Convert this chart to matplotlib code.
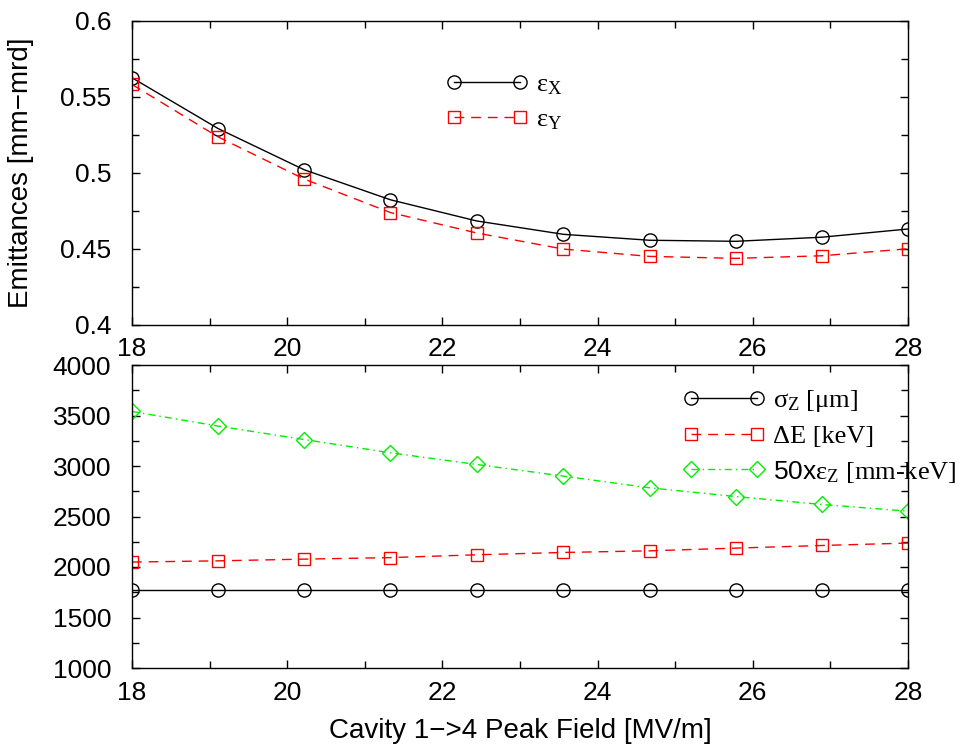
import numpy as np
import matplotlib
matplotlib.use("Agg")
import matplotlib.pyplot as plt
from matplotlib.ticker import MultipleLocator

plt.rcParams['font.family'] = ['Liberation Sans', 'DejaVu Sans']
plt.rcParams['mathtext.fontset'] = 'custom'
plt.rcParams['mathtext.rm'] = 'Liberation Serif'
plt.rcParams['mathtext.it'] = 'Liberation Serif:italic'
plt.rcParams['mathtext.sf'] = 'Liberation Sans'

# field values (10 points from 18 to 28 MV/m)
field = [18.0, 19.11, 20.22, 21.33, 22.44, 23.56, 24.67, 25.78, 26.89, 28.0]

# top panel: transverse emittances [mm-mrd]
emit_x = [0.5625, 0.5291, 0.5020, 0.4823, 0.4684, 0.4596, 0.4557, 0.4550, 0.4577, 0.4631]
emit_y = [0.5581, 0.5236, 0.4959, 0.4739, 0.4605, 0.4499, 0.4451, 0.4438, 0.4455, 0.4501]

# bottom panel
sigma_z = [1775, 1775, 1775, 1775, 1775, 1775, 1775, 1775, 1775, 1775]
delta_e = [2049, 2061, 2078, 2093, 2121, 2144, 2160, 2187, 2213, 2237]
emit_z50 = [3540, 3395, 3262, 3131, 3015, 2900, 2784, 2698, 2619, 2553]

green = '#00ee00'

fig = plt.figure(figsize=(9.71, 7.51), dpi=100)
W, H = 971.0, 751.0
ax1 = fig.add_axes([132 / W, 1 - 325 / H, 776 / W, 304.3 / H])
ax2 = fig.add_axes([132 / W, 1 - 668 / H, 776 / W, 303 / H])

ax1.plot(field, emit_x, color='black', lw=1, marker='o', ms=9.5, mfc='none',
         mec='black', mew=1, label='ε$_\\mathrm{X}$')
ax1.plot(field, emit_y, color='red', lw=1, dashes=(7, 5), marker='s', ms=8,
         mfc='none', mec='red', mew=1, label='ε$_\\mathrm{Y}$')

ax2.plot(field, sigma_z, color='black', lw=1, marker='o', ms=9.5, mfc='none',
         mec='black', mew=1, label='σ$_\\mathrm{Z}$ [μm]')
ax2.plot(field, delta_e, color='red', lw=1, dashes=(7, 5), marker='s', ms=8,
         mfc='none', mec='red', mew=1, label='ΔE [keV]')
ax2.plot(field, emit_z50, color=green, lw=1, dashes=(5, 3, 1, 3), marker='D',
         ms=8, mfc='none', mec=green, mew=1,
         label='$\\mathsf{50x}$ε$_\\mathrm{Z}$ [mm-keV]')

ax1.set_xlim(18, 28)
ax1.set_ylim(0.4, 0.6)
ax2.set_xlim(18, 28)
ax2.set_ylim(1000, 4000)

ax1.xaxis.set_major_locator(MultipleLocator(2))
ax1.xaxis.set_minor_locator(MultipleLocator(1))
ax1.yaxis.set_minor_locator(MultipleLocator(0.025))
ax1.set_yticks([0.4, 0.45, 0.5, 0.55, 0.6])
ax1.set_yticklabels(['0.4', '0.45', '0.5', '0.55', '0.6'])
ax2.xaxis.set_major_locator(MultipleLocator(2))
ax2.xaxis.set_minor_locator(MultipleLocator(1))
ax2.yaxis.set_major_locator(MultipleLocator(500))
ax2.yaxis.set_minor_locator(MultipleLocator(250))

for ax in (ax1, ax2):
    ax.tick_params(which='both', direction='in', top=True, right=True,
                   labelsize=19, width=1)
    ax.tick_params(which='major', length=6)
    ax.tick_params(which='minor', length=5)
    ax.tick_params(axis='y', pad=15)
    ax.tick_params(axis='x', pad=9)
    for s in ax.spines.values():
        s.set_linewidth(1)

fig.text(21 / W, 1 - 173 / H, 'Emittances [mm\u2212mrd]', rotation=90,
         ha='center', va='center', fontsize=20)
fig.text(520 / W, 1 - 731 / H, 'Cavity 1\u2212>4 Peak Field [MV/m]',
         ha='center', va='center', fontsize=20)

leg_kw = dict(frameon=False, numpoints=2, handlelength=3.1, handletextpad=0.3,
              borderpad=0, borderaxespad=0, labelspacing=0.4,
              prop={'family': 'Liberation Serif', 'size': 19},
              loc='upper left')
ax1.legend(bbox_to_anchor=(446 / W, 1 - 73 / H), bbox_transform=fig.transFigure,
           **leg_kw)
ax2.legend(bbox_to_anchor=(683 / W, 1 - 388 / H), bbox_transform=fig.transFigure,
           **leg_kw)

fig.savefig('out.png', dpi=100)
